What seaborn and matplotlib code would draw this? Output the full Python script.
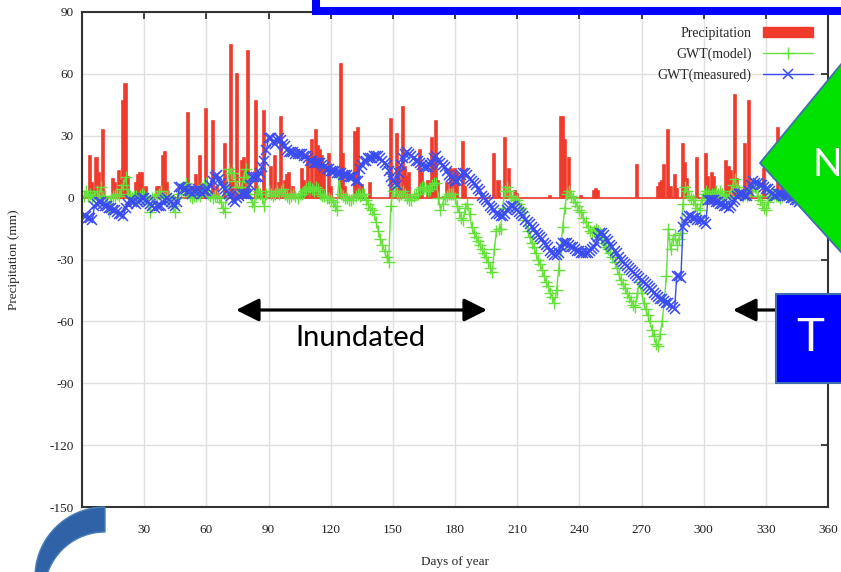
import numpy as np
import pandas as pd
import matplotlib
matplotlib.use("Agg")
import matplotlib.pyplot as plt
from matplotlib.patches import Patch, Rectangle, Polygon
from matplotlib.lines import Line2D
import seaborn as sns

# === data ===
days = np.arange(1, 347)

rain_days = [4, 5, 7, 8, 10, 15, 16, 18, 19, 20, 21, 22, 26, 27, 28, 29, 31, 36, 37, 39,
             40, 41, 51, 53, 55, 57, 60, 63, 65, 69, 72, 73, 75, 77, 78, 80, 84, 86, 88, 91,
             93, 95, 96, 98, 99, 100, 102, 106, 107, 109, 111, 113, 114, 115, 116, 117, 119, 120, 125, 126,
             127, 132, 133, 135, 139, 149, 152, 153, 155, 156, 157, 158, 163, 164, 167, 169, 170, 171, 172, 176,
             178, 180, 181, 184, 185, 199, 201, 204, 206, 209, 210, 226, 231, 232, 233, 235, 241, 247, 248, 249,
             268, 278, 279, 280, 281, 283, 284, 286, 287, 290, 291, 292, 297, 301, 302, 304, 305, 307, 311, 312,
             313, 315, 316, 320, 322, 323, 329, 336, 338, 345]
rain_mm = [20, 7, 19, 12, 33, 9, 7, 13, 8, 47, 55, 10, 7, 11, 12, 12, 5, 5, 5, 20,
           22, 7, 41, 5, 11, 20, 43, 37, 5, 26, 74, 8, 60, 18, 19, 71, 47, 2, 42, 15,
           20, 7, 39, 8, 11, 12, 5, 14, 8, 20, 28, 33, 25, 23, 20, 16, 21, 5, 65, 21,
           5, 32, 34, 6, 7, 38, 31, 15, 44, 15, 10, 12, 23, 12, 8, 29, 15, 37, 8, 7,
           14, 14, 12, 27, 5, 21, 8, 29, 14, 3, 2, 1, 39, 39, 28, 19, 1, 3, 4, 3,
           16, 5, 7, 8, 16, 33, 5, 11, 4, 26, 17, 9, 19, 21, 10, 12, 10, 1, 18, 15,
           13, 50, 9, 26, 47, 5, 14, 34, 22, 37]

gwt_model = [
    1, 3, 1, 2, 0, 1, 3, 1, 5, 0,
    1, -3, -7, 0, 1, 1, 2, 1, 4, 6,
    10, 2, 1, 0, 1, 1, 0, 1, 2, 1,
    0, -3, -7, 0, 1, 1, 2, 3, 1, 0,
    1, 1, -2, -4, -7, 0, 2, 3, 5, 7,
    3, 1, 0, 1, 1, 2, 1, 3, 6, 7,
    2, 1, 0, 1, 1, 0, -2, -5, -7, 5,
    14, 12, 12, 8, 5, 3, 5, 10, 14, 8,
    2, -2, -4, 2, 3, 2, 0, -4, 2, 3,
    2, 1, 2, 3, 2, 3, 4, 2, 1, 0,
    1, 2, 1, 0, 2, 2, 3, 4, 5, 5,
    4, 3, 5, 4, 2, 1, 1, 0, 0, -1,
    -2, -4, -6, 10, 2, 1, 0, 0, -1, -1,
    0, 1, 2, 1, 2, 2, -1, -3, -5, -6,
    -8, -12, -16, -20, -23, -26, -29, -31, -4, 3,
    5, 2, 1, 2, 3, 2, 0, -1, -1, 1,
    2, 2, 4, 5, 5, 4, 3, 4, 6, 7,
    7, 0, -6, -3, 0, 1, 2, 2, 2, 0,
    -4, -7, -10, -11, -5, -3, -8, -14, -17, -19,
    -21, -23, -25, -27, -29, -31, -34, -36, -25, -16,
    -15, -15, -5, 3, 5, 3, 1, 0, -1, -1,
    -3, -5, -7, -11, -16, -19, -22, -24, -27, -30,
    -32, -35, -38, -41, -43, -46, -48, -51, -45, -35,
    -25, -14, -5, 2, 3, 1, 0, -2, -4, -6,
    -7, -10, -12, -14, -16, -17, -16, -15, -16, -17,
    -20, -22, -24, -25, -27, -29, -31, -34, -37, -40,
    -42, -44, -46, -48, -50, -52, -53, -46, -41, -46,
    -51, -54, -57, -60, -64, -67, -71, -72, -66, -60,
    -50, -38, -15, -25, -20, -18, -23, -20, -17, -3,
    5, 3, 1, 0, -1, -3, -5, -6, -1, 2,
    3, 2, 1, 2, 2, 3, 2, 3, 2, 1,
    0, 1, 3, 6, 9, 5, 3, 2, 1, 2,
    1, 3, 4, 5, 5, 1, -1, -3, -5, -6,
    -2, 1, 2, 2, 1, 1, 0, 1, 2, 2,
    2, 1, 0, -1, 0, 1]

gwt_measured = [
    -9, -9, -10, -10, -11, -4, -3, -2, -2, -3,
    -4, -4, -5, -5, -6, -6, -7, -8, -8, -9,
    -5, -3, -1, -2, -2, -3, -2, -1, 0, 0,
    -1, -2, -3, -4, -5, -4, -4, -4, -2, -1,
    0, -1, -2, -3, -4, -2, 5, 5, 4, 4,
    3, 3, 2, 3, 3, 4, 3, 2, 3, 3,
    4, 6, 8, 10, 11, 9, 7, 5, 4, 3,
    2, 1, -1, -2, 0, 1, 2, 2, 2, 2,
    6, 10, 10, 10, 10, 12, 15, 18, 23, 29,
    29, 27, 26, 28, 29, 28, 26, 25, 23, 22,
    22, 22, 21, 21, 21, 21, 20, 20, 19, 18,
    18, 17, 17, 17, 17, 16, 15, 14, 14, 13,
    13, 13, 12, 12, 12, 11, 11, 11, 10, 10,
    10, 8, 8, 14, 16, 18, 18, 19, 19, 19,
    20, 20, 20, 19, 18, 17, 16, 13, 10, 8,
    7, 6, 12, 16, 19, 21, 22, 21, 20, 19,
    18, 18, 17, 16, 15, 15, 15, 16, 17, 19,
    20, 18, 17, 16, 15, 13, 11, 10, 9, 8,
    8, 9, 11, 12, 12, 11, 9, 8, 7, 6,
    4, 3, 1, 0, -1, -2, -4, -5, -6, -8,
    -8, -9, -9, -8, -6, -5, -4, -4, -5, -6,
    -7, -8, -9, -11, -12, -13, -14, -15, -17, -18,
    -19, -20, -22, -23, -24, -26, -27, -28, -28, -27,
    -24, -22, -22, -22, -23, -24, -24, -25, -26, -26,
    -27, -27, -27, -27, -26, -25, -24, -22, -19, -17,
    -17, -18, -20, -21, -23, -24, -26, -27, -29, -30,
    -31, -32, -33, -34, -35, -36, -37, -38, -39, -40,
    -41, -42, -43, -44, -45, -46, -47, -48, -49, -49,
    -50, -51, -51, -52, -53, -54, -38, -38, -39, -14,
    -12, -10, -9, -9, -10, -10, -11, -11, -11, -12,
    -13, -1, -1, -1, -1, -2, -2, -3, -3, -4,
    -4, -5, -4, -2, -1, 1, 2, 2, 2, 1,
    1, 3, 6, 8, 7, 7, 6, 6, 5, 4,
    4, 3, 2, 1, 1, 2, 2, 2, 1, 1,
    1, 0, 0, -1, -1, -2]

x_ticks = list(range(0, 361, 30))
y_ticks = list(range(-150, 91, 30))

# === styling ===
RED = "#ef3b2c"
GREEN = "#66e03a"
BLUE = "#3a4bf0"
SERIF = ["Liberation Serif", "DejaVu Serif"]
W, H = 841, 572


def px(x, y):
    # pixel position (from top-left) -> figure fraction
    return (x / W, 1 - y / H)


sns.set_style("white")
plt.rcParams["font.family"] = SERIF
plt.rcParams["axes.unicode_minus"] = False

fig = plt.figure(figsize=(8.41, 5.72), dpi=100)
ax = fig.add_axes([82 / W, 1 - 507 / H, (828 - 82) / W, (507 - 12) / H])

rain = pd.Series(0.0, index=days)
rain.loc[rain_days] = rain_mm
df = pd.DataFrame({"day": days, "rain": rain.values,
                   "model": gwt_model, "measured": gwt_measured})

sns.barplot(data=df, x="day", y="rain", native_scale=True, color=RED, saturation=1,
            width=1.0, edgecolor=RED, linewidth=1.2, errorbar=None, ax=ax)
sns.lineplot(data=df, x="day", y="model", color=GREEN, marker="+", markersize=8,
             mec=GREEN, mew=1, lw=1, estimator=None, ax=ax)
sns.lineplot(data=df, x="day", y="measured", color=BLUE, marker="x", markersize=7,
             mec=BLUE, mew=1.1, lw=1, estimator=None, ax=ax)

ax.set_xlim(0, 360)
ax.set_ylim(-150, 90)
ax.set_xticks(x_ticks)
ax.set_yticks(y_ticks)
ax.grid(True, color="#e0e0e0", lw=1)
ax.set_axisbelow(True)
ax.tick_params(direction="in", length=5, width=1.2, top=True, right=True,
               labelsize=9.5, colors="#222222")
ax.tick_params(axis="x", pad=12)
ax.tick_params(axis="y", pad=6)
for sp in ax.spines.values():
    sp.set_color("#333333")
    sp.set_linewidth(1.5)
    sp.set_visible(True)

ax.set_xlabel("Days of year", fontsize=9.5)
ax.set_ylabel("Precipitation (mm)", fontsize=9.5)
ax.xaxis.set_label_coords(0.5, -0.098)
ax.yaxis.set_label_coords(-0.083, 0.5)

handles = [Patch(facecolor=RED, edgecolor=RED),
           Line2D([], [], color=GREEN, marker="+", markersize=8, mew=1, lw=1),
           Line2D([], [], color=BLUE, marker="x", markersize=7, mew=1.1, lw=1)]
ax.legend(handles, ["Precipitation", "GWT(model)", "GWT(measured)"], loc="upper right",
          bbox_to_anchor=(0.996, 0.995), frameon=False, markerfirst=False,
          handlelength=3.6, labelspacing=0.55, fontsize=10)

# === slide annotations on top of the chart ===
fig.patches.append(Rectangle(px(316, 11), (900 - 316) / W, 40 / H, transform=fig.transFigure,
                             facecolor="white", edgecolor="#0000ff", lw=5.8, zorder=10))

fig.patches.append(Polygon([px(760, 163), px(861, 40), px(861, 274)], closed=True,
                           transform=fig.transFigure, facecolor="#00e100",
                           edgecolor="#3d6fb0", lw=1.3, zorder=10))
fig.text(*px(812, 165), "N", color="white", fontsize=28, family="Lato",
         ha="left", va="center", zorder=11)

fig.patches.append(Rectangle(px(776, 383), (900 - 776) / W, (383 - 294) / H,
                             transform=fig.transFigure, facecolor="#0000ff",
                             edgecolor="#3d6fb0", lw=1.5, zorder=10))
fig.text(*px(796, 338), "T", color="white", fontsize=34, family="Lato",
         ha="left", va="center", zorder=11)

ax.annotate("", xy=px(236, 310), xytext=px(487, 310), xycoords="figure fraction",
            textcoords="figure fraction",
            arrowprops=dict(arrowstyle="<|-|>,head_length=0.7,head_width=0.35",
                            color="black", lw=2.3, mutation_scale=20, shrinkA=0, shrinkB=0))
fig.text(*px(360, 338), "Inundated", color="black", fontsize=21, family="Lato",
         ha="center", va="center", zorder=11)
ax.annotate("", xy=px(733, 310), xytext=px(776, 310), xycoords="figure fraction",
            textcoords="figure fraction",
            arrowprops=dict(arrowstyle="-|>,head_length=0.7,head_width=0.35",
                            color="black", lw=2.3, mutation_scale=20, shrinkA=0, shrinkB=0))

# curved arrow at bottom left
t_out = np.radians(np.linspace(172, 270, 40))
t_in = np.radians(np.linspace(270, 188, 40))
outer = [px(105 + 70 * np.cos(t), 577 + 70 * np.sin(t)) for t in t_out]
inner = [px(105 + 60.6 * np.cos(t), 592.6 + 60.6 * np.sin(t)) for t in t_in]
fig.patches.append(Polygon(outer + inner, closed=True, transform=fig.transFigure,
                           facecolor="#2f62a6", edgecolor="#4a7ebb", lw=1, zorder=10))

fig.savefig("out.png", dpi=100)
